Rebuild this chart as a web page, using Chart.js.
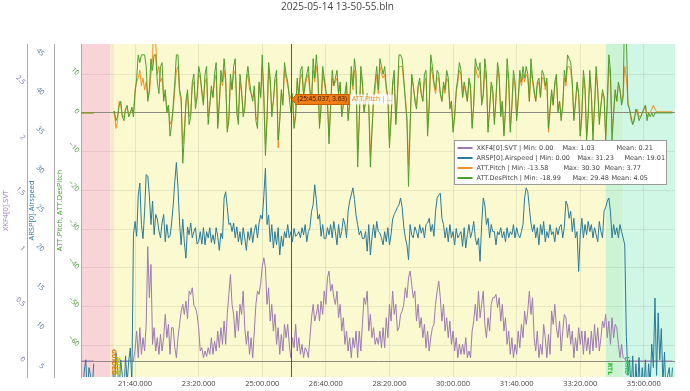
<!DOCTYPE html>
<html>
<head>
<meta charset="utf-8">
<script src="https://cdn.jsdelivr.net/npm/chart.js@4.4.1/dist/chart.umd.min.js"></script>
<style>
  html, body { margin: 0; padding: 0; background: #fff; }
  canvas { display: block; }
</style>
</head>
<body>
<canvas id="log" width="690" height="391"></canvas>
<script>
// log sample clock, seconds since boot
const T0 = 1215;
const DT = 2.5;

const svt = [
  0,0,0,0,0,0,0,0,0,null,null,null,null,null,null,null,null,null,null,null,
  0,0,0,0,0,0,0,0,0,0,0,0,0,0,0.1,0.27,0.03,0.3,0.06,0.21,
  0.09,0.33,1.03,0.57,0.87,0.15,0.3,0.09,0.21,0.06,0.24,0.09,0.21,0.42,0.21,0.33,0.06,0.3,0.3,0.12,
  0.03,0.21,0.33,0.45,0.51,0.42,0.54,0.38,0.63,0.6,0.66,0.5,0.48,0.42,0.3,0.09,0.12,0.03,0.09,0.04,
  0.12,0.06,0.21,0.06,0.18,0.09,0.27,0.12,0.3,0.15,0.36,0.15,0.42,0.6,0.78,0.51,0.42,0.21,0.45,0.27,
  0.51,0.42,0.63,0.3,0.15,0.27,0.06,0.21,0.03,0.27,0.51,0.63,0.6,0.7,0.85,0.93,0.84,0.51,0.66,0.36,
  0.51,0.27,0.42,0.15,0.3,0.06,0.24,0.09,0.33,0.21,0.33,0.15,0.03,0.21,0.12,0.33,0.09,0.21,0.06,0.15,
  0.03,0.12,0.09,0.03,0.21,0.39,0.51,0.36,0.42,0.51,0.36,0.54,0.42,0.63,0.51,0.75,0.81,0.63,0.69,0.57,
  0.51,0.63,0.39,0.51,0.27,0.39,0.15,0.27,0.09,0.21,0.03,0.21,0.12,0.27,0.03,0.27,0.09,0.33,0.57,0.51,
  0.63,0.27,0.42,0.21,0.3,0.15,0.21,0.15,0.27,0.12,0.3,0.12,0.39,0.21,0.51,0.36,0.63,0.42,0.51,0.27,
  0.3,0.42,0.45,0.51,0.66,0.57,0.75,0.81,0.69,0.57,0.63,0.36,0.51,0.3,0.39,0.21,0.33,0.12,0.27,0.09,
  0.21,0.3,0.33,0.51,0.63,0.72,0.57,0.36,0.51,0.27,0.39,0.21,0.36,0.15,0.27,0.09,0.21,0.03,0.15,0.06,
  0.15,0.06,0.21,0.03,0.09,0.03,0.27,0.36,0.51,0.36,0.63,0.39,0.51,0.63,0.33,0.21,0.39,0.27,0.51,0.57,
  0.57,0.6,0.48,0.57,0.36,0.51,0.27,0.39,0.15,0.27,0.06,0.21,0.03,0.15,0.06,0.27,0.12,0.33,0.21,0.45,
  0.33,0.45,0.63,0.42,0.57,0.21,0.09,0.27,0.03,0.15,0.06,0.33,0.21,0.03,0.24,0.06,0.45,0.33,0.51,0.3,
  0.21,0.36,0.09,0.27,0.42,0.39,0.21,0.33,0.15,0.27,0.03,0.21,0.09,0.3,0.15,0.27,0.06,0.27,0.09,0.21,
  0.06,0.27,0.09,0.33,0.12,0.3,0.09,0.21,0.36,0.3,0.42,0.21,0.36,0.15,0.39,0.21,0.33,0.3,0.15,0.03,
  0.15,0.03,0.02,0,0,0,0,0,0,0,0,0,0,0,0,0,0,0,0,0,
  0,0,0,0,0,0,0,0,0,0,0,0,0
];

const airspeed = [
  3,1.5,4.5,6,1,5,4,2,5.5,null,null,null,null,null,null,null,null,null,null,null,
  4.5,2,6.9,5,2,6,4,1.5,6.5,3,5.8,7.5,3,22,23.7,21.8,27,28.6,23.3,21.5,
  25,29.7,29.5,27,23.3,26.3,22,24.6,24,22.5,21.6,23.5,24.6,21.1,23.3,21.6,21.8,23.5,25.8,28.8,
  31.23,28,23.5,20.7,24,21,19,23,22,23.5,21.6,22.4,22.9,20.8,21.1,22.4,20.8,22.9,20.7,22.4,
  21.6,22.9,21,22,20.8,22.9,21.8,20,22.2,21.5,26.7,27.5,25.5,23.3,23.5,22.4,23.5,21.6,23,21.1,
  22.4,20.7,22.9,21.6,20,22.4,21.3,22.9,21,22.5,23.3,21.6,23.5,24.5,24,27,30.5,23.3,24.5,21.1,
  23.3,20.3,22.4,20.7,22.9,19.4,21.8,20.5,22.4,21.6,23.3,21.6,22.4,21.1,22.8,21.8,22,22.4,21.6,22.9,
  22,23.3,21.1,22.4,22.9,25,25.8,28.4,26.5,24,24.6,21.8,23.3,21.5,21.5,22.9,22,23.3,21.6,23.7,
  22.4,20.7,23.3,21.6,22.4,24.1,23.3,21.6,25,26.3,27.1,28,26.5,24.5,23.3,22,22.5,21.5,21.5,22.4,
  19.9,23.3,19.4,21.6,23.3,21.6,23.7,22.4,22.2,21.6,20.7,22.4,21.1,22.9,20.7,22,24,24.6,25,25.5,
  25.8,26.7,25.5,23,21.6,20.7,18.8,23.3,22,21.6,23,22.4,21.6,23.3,22.2,22.9,21.6,23.3,23.5,24.1,
  22.4,23.3,21.8,25,26.7,27.1,27.3,24.1,23.3,21.6,22.9,21.1,23.3,21.6,22.4,20.7,22.8,21.6,22,22.4,
  20.5,22.9,20.3,22,23.3,21.6,22.4,23.7,21.6,20.7,21.6,18.6,23.3,26.7,25.8,23.3,24.1,21.6,23.3,22.4,
  22.4,20.7,22.4,22,22.9,21.6,22.4,21.1,22.9,21.6,22.4,22,23.3,21.6,22.9,22,21.6,22.4,23.3,26.7,
  28,27.5,25.5,23.5,22.4,23.3,21.6,22.9,20.7,23.3,22,23.7,21.1,22.4,21.6,23.3,22,22.4,21.1,22.9,
  22,23,23.3,21.6,23,26.3,25.8,24.1,25,22.4,24.1,21.6,22.4,17.3,22,24.1,21.6,23.3,22,23.7,
  22.4,23.3,21.6,22.9,22,21.1,23.7,22.4,21.6,25,25.5,26.3,26.7,25,21.6,23.3,22,22.9,21.6,23.3,
  22.4,21.6,20.7,9,4,6,2,6.5,1,5.5,2,6.3,1,5,2,6,1,5.5,3,8,
  5,13.9,4,12,6,10,3,7,1,4,5,2,5
];

const pitch = [
  0,0,0,0,0,0,0,0,0,null,null,null,null,null,null,null,null,null,null,null,
  0,0,-4,-2,3,2,-1,-1,1,1,0,0,1,0,6,8,9,11,7,9,
  6,8,4,5,10,14,30.3,18,10,12,8,9,4,5,1,2,-3,-2,1,6,
  11,12,5,3,-8,-4,2,5,-1,0,7,8,3,4,10,9,6,3,8,9,
  -1,2,6,4,8,10,-3,2,9,7,11,8,-4,-1,8,6,10,11,2,-1,
  8,5,0,2,8,10,6,5,4,6,-1,-2,7,4,12,5,-8,-1,11,8,
  1,3,8,9,-9,-2,5,3,11,9,7,5,3.63,4,-3,0,8,5,9,10,
  5,7,9,10,5,3,11,8,12,9,-3,1,10,8,5,3,-6,1,9,7,
  8,9,5,7,0,2,4,7,-1,2,10,6,11,8,-10,-2,10,7,1,3,
  4,2,-11,-4,3,6,10,5,12,10,9,10,6,4,-7,-1,7,9,-2,4,
  12,12,12,8,4,-1,-13.58,-3,9,7,4,2,6,8,5,3,8,9,-4,2,
  12,10,7,5,9,9,5,3,7,5,9,8,2,3,-4,-1,5,8,11,10,
  4,7,5,3,8,6,-3,2,12,10,9,11,3,4,11,8,-4,1,7,5,
  -2,3,11,9,0,3,-5,0,11,8,-4,1,9,7,-1,3,9,7,10,8,
  10,9,3,11,8,5,3,7,8,4,9,9,6,8,-5,0,5,2,7,9,
  1,3,-1,2,9,7,12,12,11,7,-1,2,7,5,-6,-1,9,6,-6,0,
  9,5,-5,1,10,6,-2,2,5,4,-6,2,12,9,-5,0,5,3,7,6,
  3,5,12,9,3,1,-2,-3,-1,0,1,-1,-1,0,1,2,-1,0,0,1,
  2,1,0.3,0.3,0.3,0.3,0.3,0.3,0.3,0.3,0.3,0.3,0.3
];

const desPitch = [
  0,0,0,0,0,0,0,0,0,null,null,null,null,null,null,null,null,null,null,null,
  0,0.5,-2,-1,2,3,-1,-2,1,2,-1,0,1.5,-1,5,9,15,13,15,15,
  15,12,3,6,14,11,15,15,8,5,12,13,3,6,0,2,-6,-3,2,8,
  15,15,6,4,-13,-6,3,6,-3,-1,8,10,1,4,12,10,5,2,10,12,
  -3,2,7,4,10,13,-4,3,11,8,14,9,-5,-2,10,6,12,14,0,-3,
  10,6,-1,1,9,12,8,5,3,7,-2,-4,8,4,15,4,-11,-2,13,9,
  -1,3,9,11,-7,-2,6,2,13,10,8,4,0,5,-4,-1,9,4,11,12,
  4,8,10,12,6,3,14,9,15,10,-4,2,12,9,6,3,-8,2,11,7,
  9,11,5,8,-1,2,5,8,-2,3,12,7,14,10,-14,-2,12,8,0,3,
  5,2,-14,-5,4,8,12,6,14,12,10,12,7,4,-9,-2,8,11,-3,5,
  15,15,14,9,3,-2,-18.99,-4,10,7,3,1,7,9,5,3,10,11,-6,2,
  15,12,8,6,11,10,5,3,8,6,11,9,1,3,-5,-1,6,9,13,11,
  4,8,6,3,9,7,-4,2,14,12,11,13,2,5,14,10,-5,1,8,6,
  -3,4,13,10,-1,3,-6,1,14,9,-5,2,11,8,-2,4,11,8,12,9,
  12,10,3,14,9,6,3,8,9,4,11,10,7,9,-4,1,6,2,8,10,
  0,3,-2,2,11,8,15,14,13,8,-2,3,8,5,-6,0,11,7,-7,-1,
  11,5,-7,2,12,6,-3,2,6,4,-7,3,15,11,-7,0,6,3,8,6,
  2,4,29.48,20,2,1,-1,-3,-2,1,0,-2,-1,0,1,2,-2,0,-1,0,
  -1,0,0,0,0,0,0,0,0,0,0,0,0
];

const xTicks = [1300, 1400, 1500, 1600, 1700, 1800, 1900, 2000, 2100];
const svtTicks = [0, 0.5, 1, 1.5, 2, 2.5];
const arspTicks = [5, 10, 15, 20, 25, 30, 35, 40, 45];
const attTicks = [-60, -50, -40, -30, -20, -10, 0, 10];

// flight modes
const modeStart = [1215, 1261, 1267, 2040, 2068];
const modeName = ['', 'GUIDED', 'AUTO', 'RTL', 'LAND'];

const legendNames = ['XKF4[0].SVT', 'ARSP[0].Airspeed', 'ATT.Pitch', 'ATT.DesPitch'];
const legendMin = ['0.00', '0.00', '-13.58', '-18.99'];
const legendMax = ['1.03', '31.23', '30.30', '29.48'];
const legendMean = ['0.21', '19.01', '3.77', '4.05'];

const cursorTime = 1545.037;
const cursorPitch = 3.63;

const modeFill = ['rgb(248,211,216)', 'rgb(250,232,204)', 'rgb(251,249,208)', 'rgb(204,243,212)', 'rgb(208,247,229)'];
const modeText = ['', '#e07a00', '#c2c800', '#1fc41f', '#2ccf55'];
const colSvt = '#9c7bb4', colArsp = '#2a7a9a', colPitch = '#f39226', colDes = '#4f9e2b';
// legend column offsets from the box's left edge
const maxCol = [108, 123, 109, 118];
const meanCol = [162, 170, 150, 157];

function mmss(v) {
  var m = Math.floor(v / 60);
  var s = v - m * 60;
  return m + ':' + (s < 10 ? '0' : '') + s.toFixed(3);
}

function series(vals) {
  return vals.map((v, i) => ({ x: T0 + i * DT, y: v }));
}

function fixedTicks(list) {
  return s => { s.ticks = list.map(v => ({ value: v })); };
}

function leftAxis(w) {
  return s => { s.width = w; s.paddingTop = 0; s.paddingBottom = 0; };
}

const tickFont = { family: 'Open Sans', size: 7 };
const titleFont = { family: 'Open Sans', size: 7.5 };

const modeBands = {
  id: 'modeBands',
  beforeDraw(chart) {
    const { ctx, chartArea: a } = chart;
    const x = chart.scales.x;
    ctx.save();
    for (let i = 0; i < modeStart.length; i++) {
      const x0 = Math.max(a.left, x.getPixelForValue(modeStart[i]));
      const x1 = i + 1 < modeStart.length ? x.getPixelForValue(modeStart[i + 1]) : a.right;
      ctx.fillStyle = modeFill[i];
      ctx.fillRect(x0, a.top, x1 - x0, a.bottom - a.top);
    }
    ctx.restore();
  },
  afterDatasetsDraw(chart) {
    const { ctx, chartArea: a } = chart;
    const x = chart.scales.x;
    ctx.save();
    ctx.font = 'bold 6px "DejaVu Sans"';
    ctx.textAlign = 'right';
    ctx.textBaseline = 'middle';
    for (let i = 1; i < modeStart.length; i++) {
      ctx.save();
      ctx.translate(x.getPixelForValue(modeStart[i]) + 3.5, a.bottom - 2);
      ctx.rotate(Math.PI / 2);
      ctx.fillStyle = modeText[i];
      ctx.fillText(modeName[i], 0, 0);
      ctx.restore();
    }
    ctx.restore();
  }
};

const overlay = {
  id: 'overlay',
  afterDraw(chart) {
    const { ctx, chartArea: a } = chart;
    const x = chart.scales.x, yAtt = chart.scales.yAtt;
    ctx.save();

    // cursor
    const px = Math.round(x.getPixelForValue(cursorTime)) + 0.5;
    const py = Math.round(yAtt.getPixelForValue(cursorPitch)) + 0.5;
    ctx.strokeStyle = '#555';
    ctx.lineWidth = 1;
    ctx.beginPath();
    ctx.moveTo(px, a.top);
    ctx.lineTo(px, a.bottom);
    ctx.stroke();

    // hover label
    ctx.font = '6.5px "Open Sans"';
    ctx.textBaseline = 'middle';
    ctx.textAlign = 'left';
    const t1 = '(' + mmss(cursorTime) + ', ' + cursorPitch.toFixed(2) + ')';
    const w1 = ctx.measureText(t1).width + 4;
    const bx = px + 4;
    ctx.beginPath();
    ctx.moveTo(px, py);
    ctx.lineTo(bx, py - 4);
    ctx.lineTo(bx, py - 5);
    ctx.lineTo(bx + w1, py - 5);
    ctx.lineTo(bx + w1, py + 5);
    ctx.lineTo(bx, py + 5);
    ctx.lineTo(bx, py + 4);
    ctx.closePath();
    ctx.fillStyle = '#ee7d14';
    ctx.fill();
    ctx.strokeStyle = '#c45f00';
    ctx.stroke();
    ctx.fillStyle = '#2b1400';
    ctx.fillText(t1, bx + 2, py);
    const t2 = 'ATT.Pitch | ...';
    const w2 = ctx.measureText(t2).width + 4;
    ctx.fillStyle = 'rgba(255,255,255,0.75)';
    ctx.fillRect(bx + w1 + 1, py - 5, w2, 10);
    ctx.fillStyle = '#ee7d14';
    ctx.fillText(t2, bx + w1 + 3, py);

    // legend box
    const lx = a.right - 220.5, ly = a.top + 96.5, lw = 212, lh = 44;
    ctx.fillStyle = '#fff';
    ctx.fillRect(lx, ly, lw, lh);
    ctx.strokeStyle = '#9a9a9a';
    ctx.strokeRect(lx, ly, lw, lh);
    const cols = [colSvt, colArsp, colPitch, colDes];
    ctx.font = '6.5px "DejaVu Sans"';
    for (let r = 0; r < legendNames.length; r++) {
      const ry = ly + 7.5 + r * 10;
      ctx.strokeStyle = cols[r];
      ctx.lineWidth = 2;
      ctx.beginPath();
      ctx.moveTo(lx + 3, ry);
      ctx.lineTo(lx + 18, ry);
      ctx.stroke();
      ctx.fillStyle = '#444';
      ctx.fillText(legendNames[r] + ' | Min: ' + legendMin[r], lx + 22, ry);
      ctx.fillText('Max: ' + legendMax[r], lx + maxCol[r], ry);
      ctx.fillText('Mean: ' + legendMean[r], lx + meanCol[r], ry);
    }
    ctx.restore();
  }
};

const lineStyle = { borderWidth: 1, pointRadius: 0, tension: 0, spanGaps: false, fill: false };

new Chart(document.getElementById('log').getContext('2d'), {
  type: 'line',
  data: {
    datasets: [
      Object.assign({ label: 'ATT.DesPitch', data: series(desPitch), yAxisID: 'yAtt', borderColor: colDes, order: 0 }, lineStyle),
      Object.assign({ label: 'ATT.Pitch', data: series(pitch), yAxisID: 'yAtt', borderColor: colPitch, order: 1 }, lineStyle),
      Object.assign({ label: 'ARSP[0].Airspeed', data: series(airspeed), yAxisID: 'yArsp', borderColor: colArsp, order: 2 }, lineStyle),
      Object.assign({ label: 'XKF4[0].SVT', data: series(svt), yAxisID: 'ySvt', borderColor: colSvt, order: 3 }, lineStyle)
    ]
  },
  options: {
    responsive: false,
    animation: false,
    layout: { padding: { left: 0, right: 15, top: 0, bottom: 0 } },
    plugins: {
      legend: { display: false },
      tooltip: { enabled: false },
      title: {
        display: true,
        text: '2025-05-14 13-50-55.bln',
        color: '#444',
        font: { family: 'Open Sans', size: 10, weight: 'normal' },
        padding: { top: 1, bottom: 31 }
      }
    },
    scales: {
      x: {
        type: 'linear',
        min: 1215,
        max: 2149,
        border: { display: false },
        grid: { color: 'rgba(0,0,0,0.08)', drawTicks: false },
        ticks: { color: '#444', font: { family: 'Open Sans', size: 7.5 }, padding: 2, autoSkip: false, maxRotation: 0, callback: v => mmss(v) },
        afterBuildTicks: fixedTicks(xTicks),
        afterFit: s => { s.height = 14; s.paddingLeft = 0; s.paddingRight = 0; }
      },
      ySvt: {
        position: 'left',
        weight: 3,
        min: -0.144,
        max: 2.856,
        border: { color: '#aaa' },
        grid: { drawTicks: false, color: c => c.tick && c.tick.value === 0 ? '#8c8c80' : 'rgba(0,0,0,0)' },
        title: { display: true, text: 'XKF4[0].SVT', color: colSvt, font: titleFont, padding: { top: 1, bottom: 0 } },
        ticks: { color: '#7d72a0', font: tickFont, padding: 3, autoSkip: false, minRotation: -45, maxRotation: -45, callback: v => String(v) },
        afterBuildTicks: fixedTicks(svtTicks),
        afterFit: leftAxis(27)
      },
      yArsp: {
        position: 'left',
        weight: 2,
        min: 3.8,
        max: 46.4,
        border: { color: '#aaa' },
        grid: { display: false },
        title: { display: true, text: 'ARSP[0].Airspeed', color: colArsp, font: titleFont, padding: { top: 0, bottom: 0 } },
        ticks: { color: '#4f7398', font: tickFont, padding: 3, autoSkip: false, minRotation: -45, maxRotation: -45, callback: v => String(v) },
        afterBuildTicks: fixedTicks(arspTicks),
        afterFit: leftAxis(27)
      },
      yAtt: {
        position: 'left',
        weight: 1,
        min: -68.2,
        max: 17.8,
        border: { color: '#aaa' },
        grid: { drawTicks: false, color: c => c.tick && c.tick.value === 0 ? '#8c8c80' : 'rgba(0,0,0,0.07)' },
        title: { display: true, text: 'ATT.Pitch, ATT.DesPitch', color: '#3f9a2e', font: titleFont, padding: { top: 1.5, bottom: 0 } },
        ticks: { color: '#4c9a3c', font: tickFont, padding: 3, autoSkip: false, minRotation: -45, maxRotation: -45, callback: v => v < 0 ? '\u2212' + Math.abs(v) : String(v) },
        afterBuildTicks: fixedTicks(attTicks),
        afterFit: leftAxis(27)
      }
    }
  },
  plugins: [modeBands, overlay]
});
</script>
</body>
</html>
